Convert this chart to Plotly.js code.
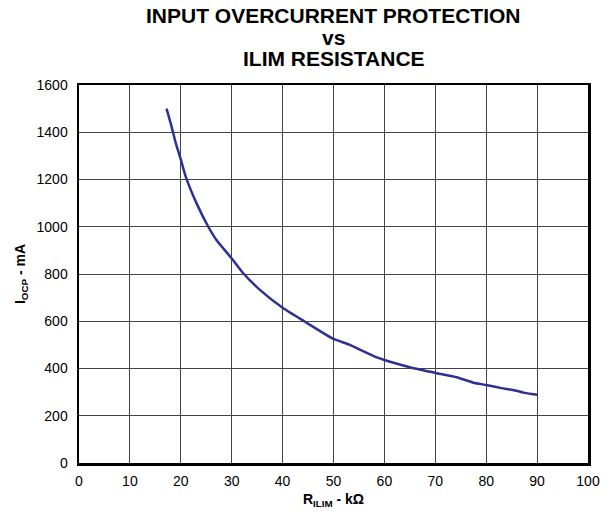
<!DOCTYPE html>
<html>
<head>
<meta charset="utf-8">
<script src="https://cdn.plot.ly/plotly-3.0.1.min.js"></script>
<style>html,body{margin:0;padding:0;background:#fff;}#chart{width:614px;height:517px;}</style>
</head>
<body>
<div id="chart"></div>
<script>
const resistanceK = [17.2, 18.2, 19.0, 20.0, 21.0, 23.1, 25.4, 27.0, 30.0, 32.4, 35.6, 40.0, 44.4, 50.0, 53.2, 58.5, 60.0, 65.0, 70.3, 74.2, 77.5, 80.0, 83.0, 85.3, 87.3, 89.0, 90.0];
const ocpMilliAmp = [1500, 1423, 1355, 1285, 1210, 1099, 1000, 944, 866, 800, 732, 657, 598, 525, 500, 447, 436, 405, 380, 363, 340, 330, 317, 309, 298, 292, 289];
const xTicks = [0, 10, 20, 30, 40, 50, 60, 70, 80, 90, 100];
const yTicks = [0, 200, 400, 600, 800, 1000, 1200, 1400, 1600];
const titleLines = ['INPUT OVERCURRENT PROTECTION', 'vs', 'ILIM RESISTANCE'];

const font = 'Liberation Sans, Arial, sans-serif';
const H = 517, T = 85, B = 54;
const plotH = H - T - B;
const titleCentersPx = [15, 37, 58];

const data = [{
  x: resistanceK, y: ocpMilliAmp, type: 'scatter', mode: 'lines',
  line: {color: '#2e3192', width: 2.5, shape: 'spline', smoothing: 0.5},
  hoverinfo: 'skip'
}];
const layout = {
  width: 614, height: H,
  margin: {l: 79, r: 26, t: T, b: B},
  paper_bgcolor: '#fff', plot_bgcolor: '#fff',
  showlegend: false,
  annotations: titleLines.map((t, i) => ({
    text: '<b>' + t + '</b>', showarrow: false,
    xref: 'paper', x: 0.5, xanchor: 'center',
    yref: 'paper', y: (H - B - titleCentersPx[i]) / plotH, yanchor: 'middle',
    font: {family: font, size: 21, color: '#000'}
  })),
  xaxis: {
    range: [0, 100], tickvals: xTicks, ticktext: xTicks.map(String),
    showgrid: true, gridcolor: '#444', gridwidth: 1,
    showline: true, linecolor: '#000', linewidth: 2.5, mirror: true,
    ticks: '', zeroline: false, ticklabelstandoff: 4,
    tickfont: {family: font, size: 14, color: '#000'},
    title: {text: '<b>R<sub>ILIM</sub> - kΩ</b>', font: {family: font, size: 14, color: '#000'}, standoff: 6}
  },
  yaxis: {
    range: [0, 1600], tickvals: yTicks, ticktext: yTicks.map(String),
    showgrid: true, gridcolor: '#444', gridwidth: 1,
    showline: true, linecolor: '#000', linewidth: 2.5, mirror: true,
    ticks: '', zeroline: false, ticklabelstandoff: 6,
    tickfont: {family: font, size: 14, color: '#000'},
    title: {text: '<b>I<sub>OCP</sub> - mA</b>', font: {family: font, size: 14, color: '#000'}, standoff: 8}
  }
};
Plotly.newPlot('chart', data, layout, {staticPlot: true, displayModeBar: false});
</script>
</body>
</html>
